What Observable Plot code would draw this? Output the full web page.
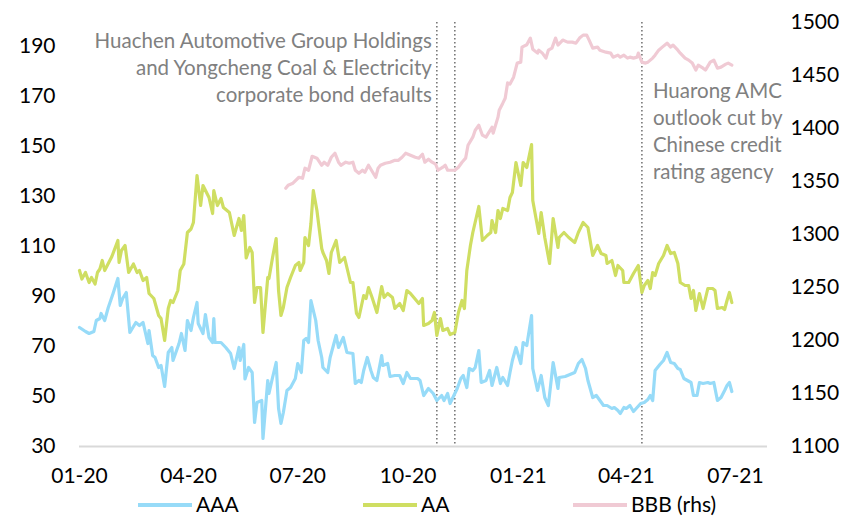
<!DOCTYPE html>
<html><head><meta charset="utf-8">
<script src="https://cdn.jsdelivr.net/npm/d3@7"></script>
<script src="https://cdn.jsdelivr.net/npm/@observablehq/plot@0.6"></script>
<style>
body{margin:0;background:#fff;font-family:Lato,"Open Sans",sans-serif;}
#wrap{position:relative;width:850px;height:517px;overflow:hidden;}
.sw{position:absolute;top:503px;width:54px;height:4px;}
.lt{position:absolute;top:493px;height:22px;line-height:22px;font-size:21px;color:#000;white-space:nowrap;}
</style></head><body><div id="wrap"></div>
<script>
const xTicks = ["2020-01-01","2020-04-01","2020-07-01","2020-10-01","2021-01-01","2021-04-01","2021-07-01"];
const leftTicks = [30,50,70,90,110,130,150,170,190];
const rightTicks = [1100,1150,1200,1250,1300,1350,1400,1450,1500];
const seriesNames = ["AAA","AA","BBB (rhs)"];
const colors = ["#97dbf8","#cfde62","#f0cad4"];
const eventDates = ["2020-10-25","2020-11-09","2021-04-14"];
const notes = [
  {date:"2020-10-25", y:182, text:"Huachen Automotive Group Holdings\nand Yongcheng Coal & Electricity\ncorporate bond defaults", anchor:"end"},
  {date:"2021-04-14", y:156.8, text:"Huarong AMC\noutlook cut by\nChinese credit\nrating agency", anchor:"start"}
];

const AAA = [["2020-01-01",77.6],["2020-01-06",76],["2020-01-09",75.2],["2020-01-13",76],["2020-01-15",80.4],["2020-01-18",81.2],["2020-01-19",83.2],["2020-01-22",80.4],["2020-01-25",85.6],["2020-01-29",91.2],["2020-02-02",97.2],["2020-02-04",86.4],["2020-02-06",89.2],["2020-02-09",91.6],["2020-02-12",75.6],["2020-02-17",79.6],["2020-02-20",78.4],["2020-02-23",79.6],["2020-02-27",71.2],["2020-02-28",76.4],["2020-03-02",66.4],["2020-03-04",65.6],["2020-03-07",61.6],["2020-03-09",62.4],["2020-03-12",54],["2020-03-15",67.6],["2020-03-18",69.6],["2020-03-19",64.4],["2020-03-24",71.2],["2020-03-26",75.2],["2020-03-29",68.4],["2020-03-31",80.4],["2020-04-03",76.4],["2020-04-05",81.6],["2020-04-08",87.6],["2020-04-09",79.2],["2020-04-13",75.2],["2020-04-15",82.8],["2020-04-18",73.6],["2020-04-21",71.6],["2020-04-22",81.2],["2020-04-23",71.6],["2020-04-28",71.6],["2020-05-02",69.6],["2020-05-06",67.2],["2020-05-09",61.2],["2020-05-13",69.6],["2020-05-14",64.4],["2020-05-17",70.8],["2020-05-18",57],["2020-05-21",61.6],["2020-05-24",59.6],["2020-05-26",39.6],["2020-05-28",47.6],["2020-06-01",48.4],["2020-06-02",33.2],["2020-06-06",56.4],["2020-06-07",51.2],["2020-06-10",57.6],["2020-06-13",63.6],["2020-06-15",45.2],["2020-06-17",39.2],["2020-06-19",43.6],["2020-06-22",52.4],["2020-06-25",53.6],["2020-06-29",57.2],["2020-07-01",63.2],["2020-07-04",59.6],["2020-07-06",72.4],["2020-07-08",73.2],["2020-07-10",71.6],["2020-07-12",88.4],["2020-07-16",80.4],["2020-07-18",72.4],["2020-07-21",65.6],["2020-07-22",61.6],["2020-07-26",59.6],["2020-07-28",65.6],["2020-08-02",74.4],["2020-08-04",69.6],["2020-08-08",73.6],["2020-08-11",67.6],["2020-08-16",67.2],["2020-08-18",55.2],["2020-08-21",56.4],["2020-08-23",55.6],["2020-08-25",60.4],["2020-08-28",65.6],["2020-08-31",60.4],["2020-09-02",57.6],["2020-09-05",56.4],["2020-09-09",66.4],["2020-09-10",62.4],["2020-09-14",63.2],["2020-09-16",58],["2020-09-20",58.4],["2020-09-24",58.4],["2020-09-27",55.2],["2020-09-30",59.6],["2020-10-03",57.2],["2020-10-09",57.2],["2020-10-11",56.4],["2020-10-14",50.4],["2020-10-18",53.2],["2020-10-22",51.2],["2020-10-25",48.4],["2020-10-29",50.4],["2020-10-31",48.4],["2020-11-03",51.2],["2020-11-05",47.2],["2020-11-07",49.2],["2020-11-11",53.2],["2020-11-14",57.2],["2020-11-16",58.4],["2020-11-19",53.6],["2020-11-21",61.2],["2020-11-24",60.4],["2020-11-26",61.6],["2020-11-29",68.4],["2020-12-01",55.6],["2020-12-05",56.4],["2020-12-08",60.4],["2020-12-10",54.4],["2020-12-14",61.6],["2020-12-17",55.2],["2020-12-19",57.6],["2020-12-23",54.4],["2020-12-25",59.6],["2020-12-27",64.4],["2020-12-30",69.6],["2021-01-03",63.2],["2021-01-05",71.6],["2021-01-08",70.4],["2021-01-12",82.4],["2021-01-13",61.2],["2021-01-17",52.4],["2021-01-20",58.4],["2021-01-23",49.6],["2021-01-26",46.4],["2021-01-30",63.6],["2021-02-03",53.2],["2021-02-04",57.6],["2021-02-09",58],["2021-02-13",58.8],["2021-02-17",59.6],["2021-02-20",63.2],["2021-02-23",64.8],["2021-02-26",61.2],["2021-02-28",56.4],["2021-03-04",49.6],["2021-03-07",50.4],["2021-03-10",48.4],["2021-03-13",46.4],["2021-03-16",46.4],["2021-03-20",45.2],["2021-03-22",45.6],["2021-03-25",44.4],["2021-03-27",43.2],["2021-03-30",45.6],["2021-04-01",45.2],["2021-04-04",46.4],["2021-04-07",44],["2021-04-10",45.6],["2021-04-13",47.2],["2021-04-16",47.6],["2021-04-19",48.8],["2021-04-21",50.4],["2021-04-23",48.4],["2021-04-25",60.4],["2021-04-27",61.6],["2021-04-29",62.8],["2021-05-02",64.4],["2021-05-05",67.6],["2021-05-08",63.6],["2021-05-11",63.2],["2021-05-14",61.2],["2021-05-16",60.8],["2021-05-19",57.2],["2021-05-22",56.4],["2021-05-25",55.6],["2021-05-27",50.4],["2021-05-30",50.4],["2021-06-01",55.6],["2021-06-04",55.2],["2021-06-08",55.6],["2021-06-10",55.2],["2021-06-13",55.6],["2021-06-16",48.4],["2021-06-19",49.6],["2021-06-22",52.4],["2021-06-24",54.4],["2021-06-26",55.6],["2021-06-28",52]];

const AA = [["2020-01-01",100.4],["2020-01-03",97],["2020-01-06",99.6],["2020-01-09",95.6],["2020-01-11",97.6],["2020-01-14",95],["2020-01-16",99.6],["2020-01-18",101],["2020-01-20",104.4],["2020-01-22",100.4],["2020-01-28",106],["2020-02-02",112.4],["2020-02-03",103.6],["2020-02-05",108.4],["2020-02-08",110.4],["2020-02-11",99.6],["2020-02-15",103],["2020-02-18",99.6],["2020-02-20",100.4],["2020-02-23",96.4],["2020-02-26",97.6],["2020-02-28",91.2],["2020-03-03",89.2],["2020-03-07",82.4],["2020-03-09",81.2],["2020-03-12",72.4],["2020-03-15",85.2],["2020-03-17",88.4],["2020-03-19",87.6],["2020-03-23",92.4],["2020-03-25",100.4],["2020-03-28",103],["2020-03-31",115.6],["2020-04-03",117],["2020-04-05",119.6],["2020-04-08",138.4],["2020-04-11",126.4],["2020-04-13",134.4],["2020-04-18",129.6],["2020-04-21",123.2],["2020-04-22",132.4],["2020-04-25",126.4],["2020-04-28",129.2],["2020-04-30",125.6],["2020-05-05",123.6],["2020-05-09",114.4],["2020-05-13",121.2],["2020-05-15",116.4],["2020-05-17",122.4],["2020-05-19",105.4],["2020-05-22",109.6],["2020-05-24",107.6],["2020-05-26",87.6],["2020-05-28",93.6],["2020-05-31",93.6],["2020-06-02",75.6],["2020-06-06",97.6],["2020-06-07",97.2],["2020-06-10",105.6],["2020-06-13",113.2],["2020-06-15",92.4],["2020-06-17",82.4],["2020-06-19",85.6],["2020-06-22",93.6],["2020-06-25",97.6],["2020-06-29",102.4],["2020-07-02",103.6],["2020-07-03",100.4],["2020-07-06",103.6],["2020-07-07",113.6],["2020-07-10",110.4],["2020-07-12",119.2],["2020-07-14",132.4],["2020-07-17",124.4],["2020-07-21",109.2],["2020-07-22",107.6],["2020-07-25",104.4],["2020-07-27",99.2],["2020-07-29",107.6],["2020-08-02",112.4],["2020-08-05",103.6],["2020-08-09",105.6],["2020-08-11",101.6],["2020-08-14",95.6],["2020-08-16",95.6],["2020-08-19",83.2],["2020-08-21",81.6],["2020-08-25",90.4],["2020-08-27",89.2],["2020-08-29",93.6],["2020-09-01",89.6],["2020-09-05",83.6],["2020-09-09",94],["2020-09-11",89.6],["2020-09-14",91.2],["2020-09-18",89.6],["2020-09-20",85.2],["2020-09-24",87.2],["2020-09-27",84.4],["2020-09-30",92.4],["2020-10-03",91.2],["2020-10-10",87.2],["2020-10-13",89.2],["2020-10-14",78.4],["2020-10-18",79.2],["2020-10-21",80.4],["2020-10-23",83.6],["2020-10-25",74.4],["2020-10-28",81.2],["2020-10-30",76.4],["2020-11-03",77.2],["2020-11-05",74.8],["2020-11-09",75.6],["2020-11-12",83.6],["2020-11-15",88.4],["2020-11-17",85.2],["2020-11-19",100.4],["2020-11-22",110.4],["2020-11-24",115.6],["2020-11-29",126],["2020-12-02",112.4],["2020-12-06",114.4],["2020-12-09",115.6],["2020-12-10",120.4],["2020-12-13",115.6],["2020-12-15",124.4],["2020-12-17",121.2],["2020-12-19",125.2],["2020-12-23",124.4],["2020-12-25",129.6],["2020-12-27",131.6],["2020-12-30",143.6],["2021-01-03",134.4],["2021-01-05",143.6],["2021-01-08",141.6],["2021-01-12",150.8],["2021-01-13",128.4],["2021-01-18",115.2],["2021-01-20",123.6],["2021-01-23",113.6],["2021-01-27",103.2],["2021-01-30",121.2],["2021-02-03",109.6],["2021-02-04",113.6],["2021-02-08",115.6],["2021-02-12",113.6],["2021-02-17",111.6],["2021-02-20",115.6],["2021-02-24",119.6],["2021-02-28",117.6],["2021-03-04",106.4],["2021-03-08",110.4],["2021-03-11",107.2],["2021-03-15",106.4],["2021-03-16",103.2],["2021-03-20",104.4],["2021-03-23",98.4],["2021-03-25",102.4],["2021-03-29",100.4],["2021-03-30",95.6],["2021-04-03",95.6],["2021-04-07",99.2],["2021-04-11",102.4],["2021-04-14",91.6],["2021-04-16",94.4],["2021-04-19",96.4],["2021-04-21",93.2],["2021-04-23",99.6],["2021-04-25",98.4],["2021-04-28",103.2],["2021-05-02",106.4],["2021-05-05",110.4],["2021-05-08",107.2],["2021-05-11",107.6],["2021-05-14",103.2],["2021-05-16",95.6],["2021-05-20",94.4],["2021-05-23",94.4],["2021-05-25",89.2],["2021-05-27",92.4],["2021-05-29",84.4],["2021-06-01",91.2],["2021-06-04",85.2],["2021-06-08",93.2],["2021-06-12",93.2],["2021-06-14",92.4],["2021-06-16",85.2],["2021-06-20",85.6],["2021-06-22",84.8],["2021-06-24",88.4],["2021-06-26",91.6],["2021-06-28",87.6]];

const BBB = [["2020-06-21",1343.6],["2020-06-23",1346.5],["2020-06-27",1348.4],["2020-07-02",1354],["2020-07-05",1353],["2020-07-07",1362.5],["2020-07-10",1360.6],["2020-07-13",1373.8],["2020-07-17",1372],["2020-07-21",1365.3],["2020-07-23",1368.2],["2020-07-26",1365.3],["2020-07-29",1372.9],["2020-08-01",1376.7],["2020-08-04",1368.2],["2020-08-06",1365.3],["2020-08-10",1368.2],["2020-08-13",1367.2],["2020-08-16",1368.2],["2020-08-18",1360.6],["2020-08-21",1357.8],["2020-08-24",1360.6],["2020-08-26",1358.7],["2020-08-29",1365.3],["2020-09-01",1359.7],["2020-09-04",1354],["2020-09-06",1362.5],["2020-09-08",1365.3],["2020-09-12",1367.2],["2020-09-16",1368.2],["2020-09-20",1370],["2020-09-23",1370],["2020-09-26",1372.9],["2020-09-29",1376.7],["2020-10-03",1374.8],["2020-10-07",1372.9],["2020-10-10",1372],["2020-10-13",1375.7],["2020-10-15",1368.2],["2020-10-18",1371],["2020-10-21",1368.2],["2020-10-24",1366.3],["2020-10-26",1360.6],["2020-10-30",1363.5],["2020-11-01",1365.3],["2020-11-03",1360.6],["2020-11-07",1360.6],["2020-11-09",1360.6],["2020-11-12",1363.5],["2020-11-15",1368.2],["2020-11-18",1372],["2020-11-20",1384.2],["2020-11-24",1391.8],["2020-11-26",1398.4],["2020-11-29",1403.1],["2020-12-02",1393.7],["2020-12-05",1391.8],["2020-12-07",1395.6],["2020-12-10",1401.2],["2020-12-11",1395.6],["2020-12-15",1410.7],["2020-12-16",1417.3],["2020-12-19",1423.9],["2020-12-21",1428.6],["2020-12-23",1443],["2020-12-25",1442],["2020-12-28",1448.4],["2020-12-31",1461.7],["2021-01-03",1462.6],["2021-01-04",1476.8],["2021-01-08",1479],["2021-01-11",1485.3],["2021-01-13",1474.8],["2021-01-17",1471.1],["2021-01-18",1473.9],["2021-01-21",1471.1],["2021-01-24",1466.4],["2021-01-26",1473.9],["2021-01-29",1475.8],["2021-02-01",1485.3],["2021-02-03",1478.7],["2021-02-07",1483.4],["2021-02-11",1481.5],["2021-02-15",1481.5],["2021-02-18",1480.5],["2021-02-21",1485.3],["2021-02-24",1488.1],["2021-02-27",1488.1],["2021-03-01",1483.4],["2021-03-04",1475.8],["2021-03-08",1476.8],["2021-03-10",1473.9],["2021-03-15",1472],["2021-03-19",1471.1],["2021-03-21",1467.3],["2021-03-25",1469.2],["2021-03-27",1467.3],["2021-03-30",1469.2],["2021-04-02",1466.4],["2021-04-04",1467.3],["2021-04-07",1466.4],["2021-04-10",1467.3],["2021-04-11",1471.1],["2021-04-14",1462.6],["2021-04-17",1461.7],["2021-04-19",1462.6],["2021-04-23",1466.4],["2021-04-25",1469.2],["2021-04-28",1473.9],["2021-05-01",1476.8],["2021-05-05",1480.5],["2021-05-08",1476.8],["2021-05-10",1478.7],["2021-05-14",1473.9],["2021-05-16",1471.1],["2021-05-20",1466.4],["2021-05-23",1464.5],["2021-05-26",1461.7],["2021-05-29",1455.1],["2021-05-31",1459.8],["2021-06-04",1456.9],["2021-06-06",1455.1],["2021-06-10",1462.6],["2021-06-13",1464.5],["2021-06-16",1456.9],["2021-06-19",1457.9],["2021-06-23",1460.7],["2021-06-25",1461.7],["2021-06-28",1459.8]];

// right axis (1100..1500) mapped onto left scale (30..199.6)
const leftDomain = [30, 199.6];
const rightDomain = [1100, 1500];
const k = (leftDomain[1]-leftDomain[0])/(rightDomain[1]-rightDomain[0]);
const toLeft = v => leftDomain[0] + (v - rightDomain[0]) * k;
const fromLeft = v => rightDomain[0] + (v - leftDomain[0]) / k;
const parse = s => new Date(s + "T00:00:00Z");

const aaa = AAA.map(([d,v]) => ({date: parse(d), v}));
const aa = AA.map(([d,v]) => ({date: parse(d), v}));
const bbb = BBB.map(([d,v]) => ({date: parse(d), v: toLeft(v)}));

const W = 850, H = 488;
const fmt = d3.utcFormat("%m-%y");
const FONT = "Lato, 'Open Sans', sans-serif";
const chart = Plot.plot({
  width: W, height: H,
  marginLeft: 79, marginRight: 83, marginTop: 22, marginBottom: H - 446,
  style: {fontFamily: FONT, fontSize: "21px", color: "#000", background: "#fff"},
  x: {type: "utc", domain: [parse("2020-01-01"), new Date(Date.UTC(2021,6,27,18))]},
  y: {domain: leftDomain},
  marks: [
    Plot.ruleY([leftDomain[0]], {stroke: "#d9d9d9", strokeWidth: 2}),
    Plot.ruleX(eventDates.map(parse), {stroke: "#6e6e6e", strokeWidth: 1.5, strokeDasharray: "1.5,2.5"}),
    Plot.line(bbb, {x: "date", y: "v", stroke: colors[2], strokeWidth: 3.2}),
    Plot.line(aa, {x: "date", y: "v", stroke: colors[1], strokeWidth: 3.2}),
    Plot.line(aaa, {x: "date", y: "v", stroke: colors[0], strokeWidth: 3.2}),
    Plot.text(notes.filter(n => n.anchor === "end"), {x: d => parse(d.date), y: "y", text: "text", textAnchor: "end", dx: -5, fill: "#808080", fontSize: 20.5, lineHeight: 1.32}),
    Plot.text(notes.filter(n => n.anchor === "start"), {x: d => parse(d.date), y: "y", text: "text", textAnchor: "start", dx: 11, fill: "#808080", fontSize: 20.5, lineHeight: 1.32}),
    Plot.axisX(xTicks.map(parse), {tickSize: 0, tickPadding: 22, tickFormat: fmt, label: null, fontSize: 21}),
    Plot.axisY(leftTicks, {anchor: "left", tickSize: 0, tickPadding: 24, label: null, fontSize: 21}),
    Plot.axisY(rightTicks.map(toLeft), {anchor: "right", tickSize: 0, tickPadding: 23, label: null, fontSize: 21, tickFormat: d => String(Math.round(fromLeft(d)))})
  ]
});
const wrap = document.getElementById("wrap");
wrap.appendChild(chart);
const legendLeft = [138, 363, 573];
seriesNames.forEach((name, i) => {
  const sw = document.createElement("div");
  sw.className = "sw"; sw.style.background = colors[i]; sw.style.left = legendLeft[i] + "px";
  wrap.appendChild(sw);
  const t = document.createElement("div");
  t.className = "lt"; t.style.left = (legendLeft[i] + 58) + "px";
  t.textContent = name;
  wrap.appendChild(t);
});
</script></body></html>
